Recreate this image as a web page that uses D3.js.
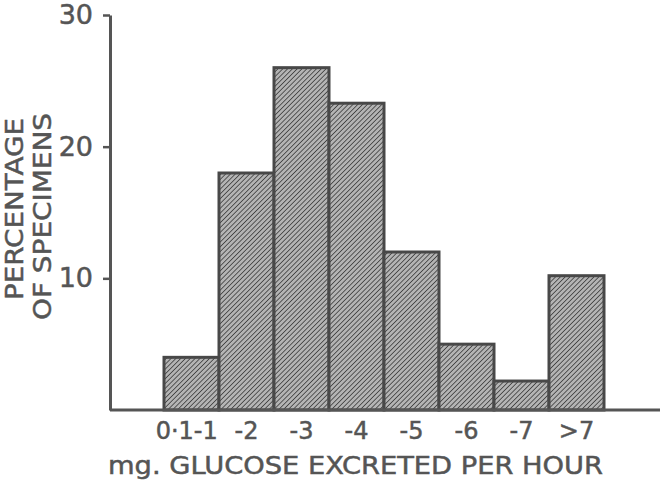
<!DOCTYPE html>
<meta charset="utf-8">
<script src="https://d3js.org/d3.v7.min.js"></script>
<style>
  body { margin: 0; background: #fff; }
  text { font-family: "DejaVu Sans", sans-serif; fill: #555; stroke: #555; stroke-width: 0.5px; }
</style>
<div id="chart"></div>
<script>
// Glucose excretion classes (mg per hour) and percentage of specimens
var classes = ["0·1-1", "-2", "-3", "-4", "-5", "-6", "-7", ">7"];
var percent = [4, 18, 26, 23.3, 12, 5, 2.2, 10.2];
var yTicks = [10, 20, 30];

var width = 669, height = 483;

var svg = d3.select("#chart").append("svg")
    .attr("width", width)
    .attr("height", height);

// hatch pattern for the bars
var defs = svg.append("defs");
var pat = defs.append("pattern")
    .attr("id", "hatch")
    .attr("patternUnits", "userSpaceOnUse")
    .attr("width", 3.4).attr("height", 3.4)
    .attr("patternTransform", "rotate(45)");
pat.append("rect").attr("width", 3.4).attr("height", 3.4).attr("fill", "#b4b4b4");
pat.append("line")
    .attr("x1", 0).attr("y1", 0).attr("x2", 0).attr("y2", 3.4)
    .attr("stroke", "#3c3c3c").attr("stroke-width", 1.6);

var x = d3.scaleBand()
    .domain(classes)
    .range([164, 604])
    .padding(0);

var y = d3.scaleLinear()
    .domain([0, 30])
    .range([410, 15]);

// bars
svg.selectAll("rect.bar")
  .data(classes)
  .enter()
  .append("rect")
    .attr("class", "bar")
    .attr("x", function(d) { return x(d); })
    .attr("y", function(d, i) { return y(percent[i]); })
    .attr("width", x.bandwidth())
    .attr("height", function(d, i) { return y(0) - y(percent[i]); })
    .attr("fill", "url(#hatch)")
    .attr("stroke", "#484848")
    .attr("stroke-width", 3);

// baseline
svg.append("line")
    .attr("x1", 110).attr("x2", 660)
    .attr("y1", y(0)).attr("y2", y(0))
    .attr("stroke", "#555").attr("stroke-width", 3);

// y axis
var yAxis = svg.append("g")
    .attr("transform", "translate(110,0)")
    .call(d3.axisLeft(y).tickValues(yTicks).tickSize(7).tickSizeOuter(0).tickPadding(10));
yAxis.select(".domain").attr("stroke", "#555").attr("stroke-width", 3);
yAxis.selectAll(".tick line").attr("stroke", "#555").attr("stroke-width", 2.5);
yAxis.selectAll(".tick text")
    .style("font-family", "DejaVu Sans, sans-serif")
    .style("font-size", "27px")
    .attr("fill", "#555");

// x axis labels
var xAxis = svg.append("g")
    .attr("transform", "translate(0," + y(0) + ")")
    .call(d3.axisBottom(x).tickSize(0).tickPadding(12));
xAxis.select(".domain").remove();
xAxis.selectAll(".tick text")
    .style("font-family", "DejaVu Sans, sans-serif")
    .style("font-size", "24px")
    .attr("fill", "#555");
xAxis.select(".tick text").attr("dx", "-0.2em");

// axis titles
svg.append("text")
    .attr("x", 108).attr("y", 474)
    .attr("textLength", 495)
    .attr("lengthAdjust", "spacingAndGlyphs")
    .style("font-size", "25px")
    .text("mg. GLUCOSE  EXCRETED  PER  HOUR");

svg.append("text")
    .attr("transform", "translate(23,300) rotate(-90)")
    .attr("textLength", 182)
    .attr("lengthAdjust", "spacingAndGlyphs")
    .style("font-size", "25px")
    .text("PERCENTAGE");

svg.append("text")
    .attr("transform", "translate(51,320) rotate(-90)")
    .attr("textLength", 207)
    .attr("lengthAdjust", "spacingAndGlyphs")
    .style("font-size", "25px")
    .text("OF SPECIMENS");
</script>
